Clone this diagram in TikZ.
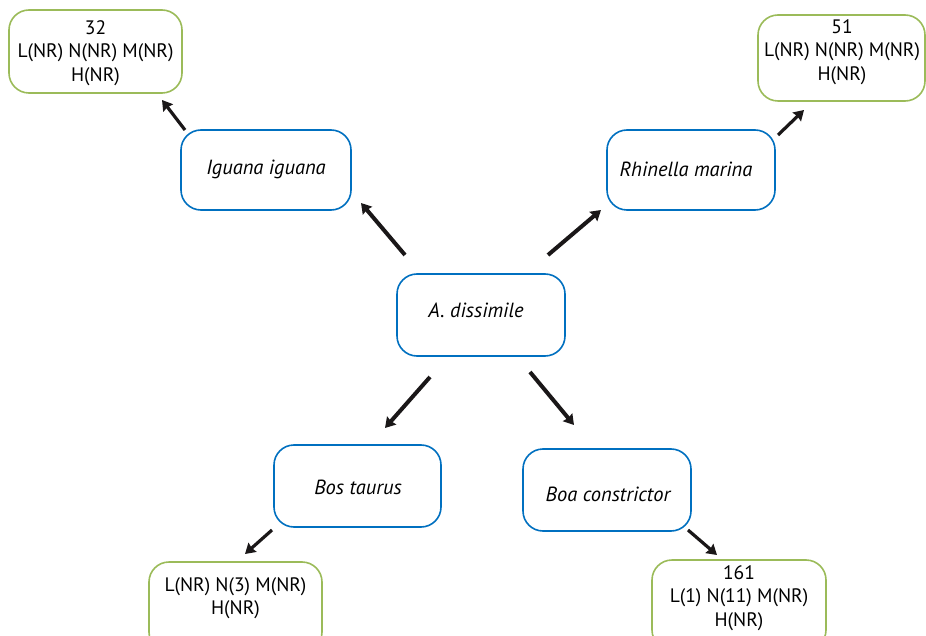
\documentclass[tikz,border=0pt]{standalone}
\usepackage{fontspec}
\setmainfont{PT Sans}
\usetikzlibrary{arrows.meta}
\definecolor{boxgreen}{RGB}{155,187,89}
\definecolor{boxblue}{RGB}{0,112,192}
\definecolor{arrowk}{RGB}{26,23,24}
\tikzset{
  bluebox/.style={draw=boxblue, line width=1.6pt, rounded corners=20pt, minimum width=168pt, minimum height=80pt, inner sep=0pt},
  greenbox/.style={draw=boxgreen, line width=1.6pt, rounded corners=20pt, inner sep=0pt},
  txt/.style={align=center, inner sep=0pt, font=\fontsize{19.5}{23.5}\selectfont},
  itxt/.style={inner sep=0pt, font=\fontsize{20.5}{22}\selectfont\itshape},
  arr/.style={draw=arrowk, line width=4pt, -{Stealth[length=10pt,width=12pt,inset=1pt]}}
}
\begin{document}
\begin{tikzpicture}[x=1pt,y=-1pt]
\clip (0,0) rectangle (926,636);
\fill[white] (0,0) rectangle (926,636);
% green boxes
\node[greenbox, minimum width=173pt, minimum height=83pt] (gtl) at (95.5,51.5) {};
\node[txt] (gtlt) at (95.5,53) {32\\L(NR) N(NR) M(NR)\\H(NR)};
\node[greenbox, minimum width=167pt, minimum height=86pt] (gtr) at (841.5,58) {};
\node[txt] (gtrt) at (842,52) {51\\L(NR) N(NR) M(NR)\\H(NR)};
\node[greenbox, minimum width=173pt, minimum height=90pt] (gbl) at (235.5,607) {};
\node[txt] (gblt) at (235.5,598) {L(NR) N(3) M(NR)\\H(NR)};
\node[greenbox, minimum width=174pt, minimum height=90pt] (gbr) at (739,605) {};
\node[txt] (gbrt) at (739,598) {161\\L(1) N(11) M(NR)\\H(NR)};
% blue boxes
\node[bluebox, minimum width=170pt] (ig) at (266,170) {};
\node[itxt] (igt) at (266,169) {Iguana iguana};
\node[bluebox] (rm) at (691,170) {};
\node[itxt] (rmt) at (686,169) {Rhinella marina};
\node[bluebox, minimum height=82pt] (ad) at (481,315) {};
\node[itxt] (adt) at (476,310) {A. dissimile};
\node[bluebox, minimum width=167pt, minimum height=82pt] (bt) at (357.5,486) {};
\node[itxt] (btt) at (358,487) {Bos taurus};
\node[bluebox, minimum height=82pt] (bc) at (607,490) {};
\node[itxt] (bct) at (608,494) {Boa constrictor};
% arrow end points
\coordinate (a1s) at (405,255); \coordinate (a1e) at (361,203);
\coordinate (a2s) at (548,255); \coordinate (a2e) at (601,210);
\coordinate (a3s) at (430,377); \coordinate (a3e) at (385,428);
\coordinate (a4s) at (530,372); \coordinate (a4e) at (574,425);
\coordinate (a5s) at (185,130); \coordinate (a5e) at (162,100);
\coordinate (a6s) at (778,135); \coordinate (a6e) at (804,110);
\coordinate (a7s) at (272,530); \coordinate (a7e) at (245,554);
\coordinate (a8s) at (688,530); \coordinate (a8e) at (717,555);
\draw[arr] (a1s) -- (a1e);
\draw[arr] (a2s) -- (a2e);
\draw[arr] (a3s) -- (a3e);
\draw[arr] (a4s) -- (a4e);
\draw[arr, line width=3.2pt] (a5s) -- (a5e);
\draw[arr, line width=3.2pt] (a6s) -- (a6e);
\draw[arr, line width=3.2pt] (a7s) -- (a7e);
\draw[arr, line width=3.2pt] (a8s) -- (a8e);
\end{tikzpicture}
\end{document}
